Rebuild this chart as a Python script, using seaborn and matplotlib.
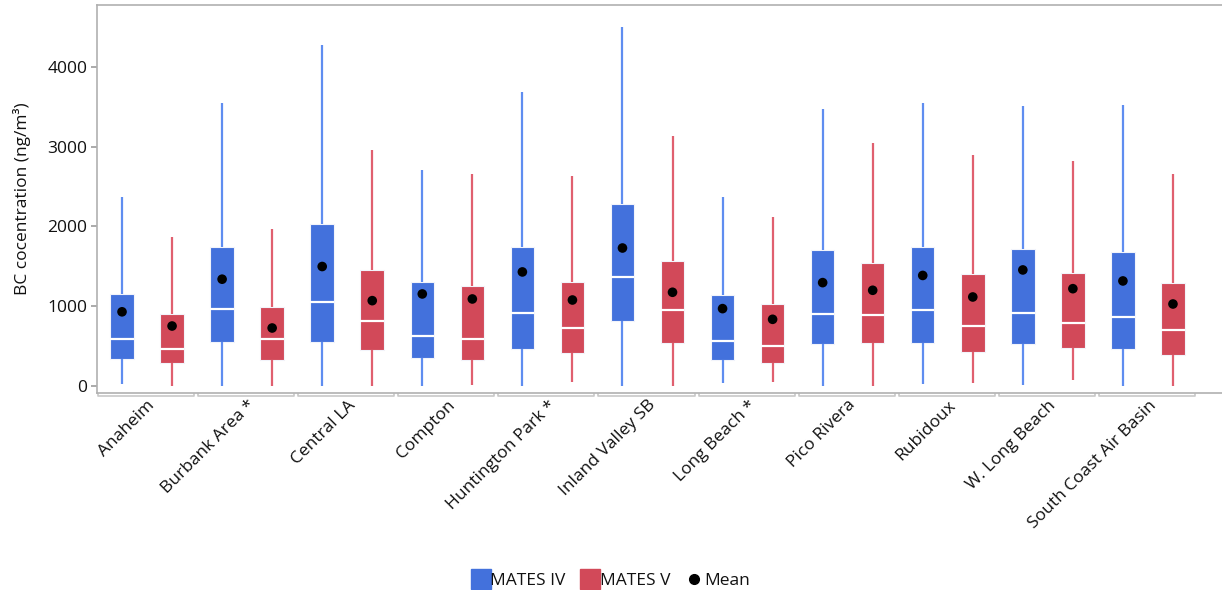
import numpy as np
import pandas as pd
import matplotlib
matplotlib.use("Agg")
import matplotlib.pyplot as plt
import matplotlib.transforms as mtransforms
from matplotlib.lines import Line2D
import seaborn as sns

sns.set_theme(style="white")
plt.rcParams["font.family"] = ["Open Sans", "DejaVu Sans"]
plt.rcParams["text.color"] = "#111111"
plt.rcParams["axes.labelcolor"] = "#111111"
plt.rcParams["xtick.color"] = "#111111"
plt.rcParams["ytick.color"] = "#111111"

sites = ["Anaheim", "Burbank Area *", "Central LA", "Compton", "Huntington Park *",
         "Inland Valley SB", "Long Beach *", "Pico Rivera", "Rubidoux", "W. Long Beach",
         "South Coast Air Basin"]

# MATES IV summary stats (ng/m3)
iv_low = [30, 0, 0, 0, 0, 0, 40, 0, 20, 10, 0]
iv_q1 = [338, 556, 548, 351, 464, 815, 325, 523, 544, 524, 460]
iv_med = [589, 960, 1049, 627, 915, 1367, 562, 903, 953, 913, 860]
iv_q3 = [1154, 1746, 2031, 1304, 1743, 2282, 1144, 1700, 1738, 1716, 1675]
iv_high = [2370, 3545, 4271, 2708, 3686, 4501, 2365, 3469, 3545, 3511, 3520]
iv_mean = [930, 1339, 1498, 1154, 1430, 1730, 970, 1296, 1386, 1455, 1317]

# MATES V summary stats (ng/m3)
v_low = [0, 0, 0, 10, 50, 0, 45, 0, 37, 75, 0]
v_q1 = [284, 330, 451, 326, 414, 535, 293, 544, 422, 473, 389]
v_med = [469, 594, 815, 589, 727, 948, 502, 887, 752, 793, 702]
v_q3 = [906, 986, 1455, 1254, 1304, 1572, 1028, 1538, 1404, 1415, 1295]
v_high = [1866, 1964, 2959, 2658, 2633, 3135, 2122, 3043, 2897, 2823, 2658]
v_mean = [752, 727, 1070, 1091, 1078, 1175, 836, 1200, 1116, 1220, 1028]

blue, blue_w = "#4371DC", "#5F8DF0"
red, red_w = "#D24959", "#E0606F"


def make_stats(low, q1, med, q3, high, mean):
    return [dict(whislo=a, q1=b, med=c, q3=d, whishi=e, mean=f, fliers=[])
            for a, b, c, d, e, f in zip(low, q1, med, q3, high, mean)]


fig = plt.figure(figsize=(12.22, 5.9), dpi=100)
ax = fig.add_axes([97 / 1222, 197 / 590, 1 - 97 / 1222, 388 / 590])

pos = np.arange(len(sites))
off = 0.25
for stats, shift, fc, wc in [
    (make_stats(iv_low, iv_q1, iv_med, iv_q3, iv_high, iv_mean), -off, blue, blue_w),
    (make_stats(v_low, v_q1, v_med, v_q3, v_high, v_mean), off, red, red_w),
]:
    ax.bxp(stats, positions=pos + shift, widths=0.235, patch_artist=True,
           showcaps=False, showfliers=False, showmeans=False,
           boxprops=dict(facecolor=fc, edgecolor="#f2f4fb", linewidth=0.8),
           medianprops=dict(color="white", linewidth=1.6),
           whiskerprops=dict(color=wc, linewidth=1.6, solid_capstyle="butt"),
           manage_ticks=False, zorder=2)

means = pd.DataFrame({
    "x": np.concatenate([pos - off, pos + off]),
    "mean": iv_mean + v_mean,
})
sns.scatterplot(data=means, x="x", y="mean", color="black", s=48,
                edgecolor="none", ax=ax, zorder=3, legend=False)

ax.set_xlim(-0.5, (1222 - 148) / 100)
ax.set_ylim(-88, 4777)
ax.set_yticks([0, 1000, 2000, 3000, 4000])
ax.set_xticks(pos)
ax.set_xticklabels(sites, rotation=45, ha="right", rotation_mode="anchor", fontsize=12.5)
ax.tick_params(axis="x", length=0, pad=3)
ax.tick_params(axis="y", length=4, color="#a0a0a0", labelsize=12.5, pad=3, left=True)
ax.set_xlabel("")
ax.set_ylabel("BC cocentration (ng/m³)", fontsize=12.5, labelpad=12)

for side in ["top", "bottom", "left"]:
    ax.spines[side].set_color("#b0b0b0")
    ax.spines[side].set_linewidth(1.2)
ax.spines["right"].set_visible(False)

# group brackets under the axis
trans = mtransforms.blended_transform_factory(ax.transData, ax.transAxes)
for i in pos:
    ax.plot([i - 0.49, i - 0.49, i + 0.47, i + 0.47], [-0.002, -0.009, -0.009, -0.002],
            color="#c8c8c8", lw=1.2, transform=trans, clip_on=False)

handles = [
    Line2D([], [], marker="s", ls="none", color=blue, markersize=14),
    Line2D([], [], marker="s", ls="none", color=red, markersize=14),
    Line2D([], [], marker="o", ls="none", color="black", markersize=7),
]
fig.legend(handles, ["MATES IV", "MATES V", "Mean"], loc="lower center",
           bbox_to_anchor=(0.5, -0.025), ncol=3, frameon=False, fontsize=12.5,
           handletextpad=0.05, columnspacing=0.9, handlelength=1.0)

fig.savefig("out.png", dpi=100)
